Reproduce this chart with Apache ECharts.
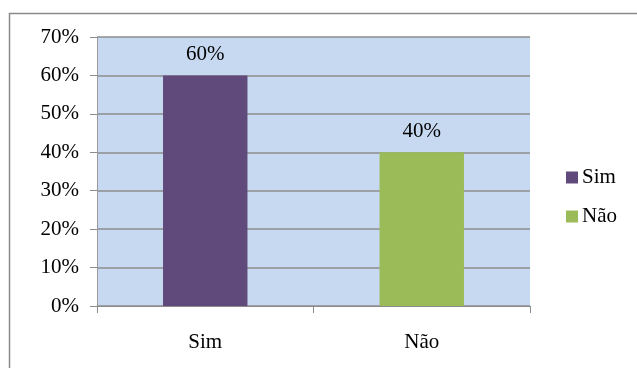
<!DOCTYPE html>
<html>
<head>
<meta charset="utf-8">
<script src="https://cdn.jsdelivr.net/npm/echarts@6/dist/echarts.min.js"></script>
<style>
  html, body { margin: 0; padding: 0; background: #ffffff; }
  #chart { width: 637px; height: 368px; }
</style>
</head>
<body>
<div id="chart"></div>
<script>
// Survey answers as shares of respondents
const categories = ['Sim', 'Não'];
const shares = [0.60, 0.40];
const barColors = ['#604a7b', '#9bbb59'];
const yTicks = [0, 0.1, 0.2, 0.3, 0.4, 0.5, 0.6, 0.7];

const serif = "'Liberation Serif', 'Times New Roman', serif";
const pct = v => Math.round(v * 100) + '%';

const chart = echarts.init(document.getElementById('chart'));

// One series per answer so each gets its own legend entry and colour
const series = categories.map((name, i) => ({
  name: name,
  type: 'bar',
  stack: 'all',
  barWidth: '39%',
  data: categories.map((c, j) => (j === i ? shares[i] : null)),
  itemStyle: { color: barColors[i] },
  label: {
    show: true,
    position: 'top',
    distance: 10,
    formatter: p => pct(p.value),
    fontFamily: serif,
    fontSize: 21,
    color: '#000'
  }
}));

chart.setOption({
  animation: false,
  graphic: [{
    type: 'rect',
    shape: { x: 9.5, y: 13.5, width: 700, height: 400 },
    style: { fill: 'none', stroke: '#8a8a8a', lineWidth: 1.5 },
    silent: true
  }],
  grid: {
    left: 97, right: 107, top: 37, bottom: 62,
    show: true,
    backgroundColor: '#c6d9f1',
    borderWidth: 0
  },
  legend: {
    orient: 'vertical',
    left: 561,
    top: 162,
    itemWidth: 12,
    itemHeight: 12,
    itemGap: 18,
    icon: 'rect',
    data: categories,
    textStyle: { fontFamily: serif, fontSize: 21, color: '#000', padding: [0, 0, 0, -1] }
  },
  xAxis: {
    type: 'category',
    data: categories,
    axisLine: { lineStyle: { color: '#8c8c8c', width: 1 } },
    axisTick: { show: true, length: 7, lineStyle: { color: '#8c8c8c' } },
    axisLabel: { fontFamily: serif, fontSize: 21, color: '#000', margin: 26 }
  },
  yAxis: {
    type: 'value',
    min: 0,
    max: yTicks[yTicks.length - 1],
    interval: 0.1,
    axisLine: { show: true, lineStyle: { color: '#9a9a9a', width: 1 } },
    axisTick: { show: true, length: 7, lineStyle: { color: '#8c8c8c' } },
    splitLine: { show: true, lineStyle: { color: '#8c8c8c', width: 1.5 } },
    axisLabel: {
      fontFamily: serif, fontSize: 21, color: '#000', margin: 18,
      formatter: v => pct(v)
    }
  },
  series: series
});
</script>
</body>
</html>
